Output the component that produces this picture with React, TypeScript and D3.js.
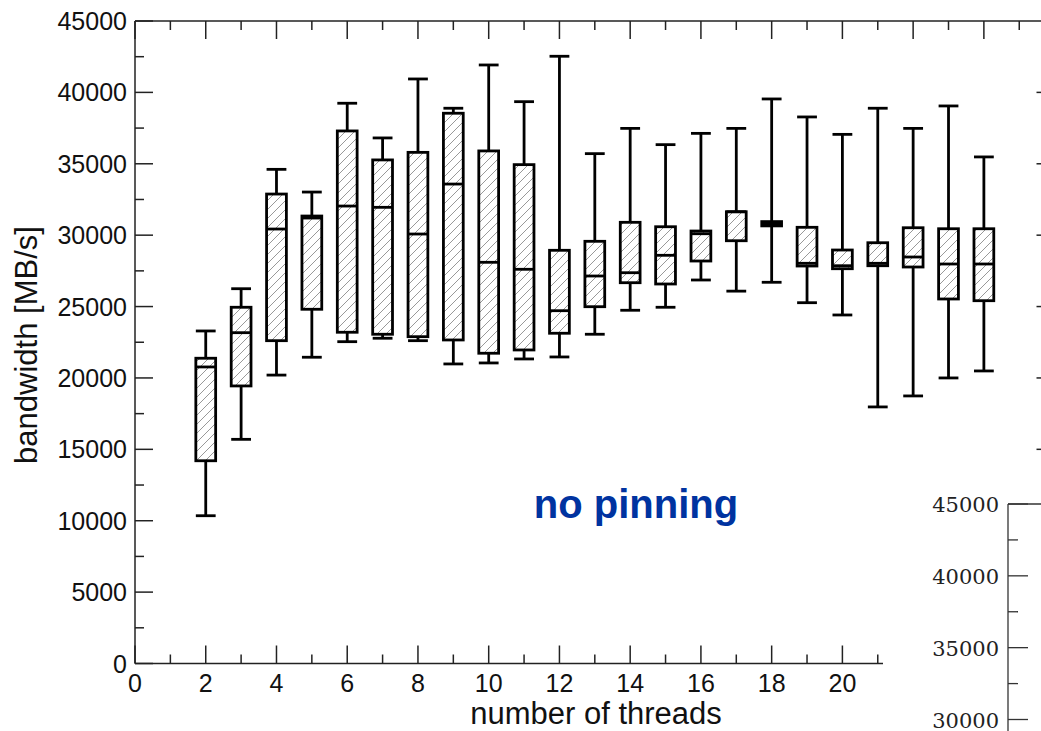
import React from "react";
import * as d3 from "d3";

// box statistics per thread count (MB/s)
const threads = [2, 3, 4, 5, 6, 7, 8, 9, 10, 11, 12, 13, 14, 15, 16, 17, 18, 19, 20, 21, 22, 23, 24];
const whiskerLow = [10350, 15700, 20200, 21450, 22540, 22780, 22610, 20980, 21050, 21330, 21470, 23060, 24740, 24950, 26860, 26080, 26700, 25270, 24410, 17970, 18740, 20000, 20490];
const q1 = [14200, 19440, 22610, 24810, 23200, 23060, 22890, 22660, 21730, 21960, 23130, 24990, 26670, 26580, 28190, 29610, 30650, 27840, 27650, 27860, 27770, 25530, 25410];
const median = [20770, 23170, 30430, 31200, 32040, 31950, 30080, 33580, 28100, 27610, 24710, 27140, 27370, 28590, 30100, 31640, 30800, 28030, 27860, 28030, 28470, 27980, 27980];
const q3 = [21380, 24950, 32880, 31340, 37300, 35270, 35800, 38540, 35900, 34940, 28940, 29570, 30900, 30590, 30290, 31640, 30950, 30550, 28960, 29470, 30520, 30450, 30450];
const whiskerHigh = [23290, 26250, 34610, 33020, 39240, 36810, 40940, 38890, 41920, 39350, 42530, 35710, 37480, 36340, 37130, 37480, 39540, 38280, 37060, 38890, 37480, 39050, 35480];

const yTicks = [0, 5000, 10000, 15000, 20000, 25000, 30000, 35000, 40000, 45000];
const xTickLabels = [0, 2, 4, 6, 8, 10, 12, 14, 16, 18, 20];
const insetTicks = [30000, 35000, 40000, 45000];

const W = 1041;
const H = 731;

export default function App() {
  const x = d3.scaleLinear().domain([0, 25]).range([135, 135 + 25 * 35.37]);
  const y = d3.scaleLinear().domain([0, 45000]).range([663.5, 21]);
  const y2 = d3.scaleLinear().domain([30000, 45000]).range([719.5, 504]);
  const halfW = x(0.28) - x(0);

  const axisColor = "#222";
  const sans = "'Liberation Sans', Arial, Helvetica, sans-serif";
  const serif = "'DejaVu Serif', 'Liberation Serif', serif";

  const bottomTicks = d3.range(0, 22);
  const topTicks = d3.range(0, 26);
  const minorY = d3.range(2500, 45000, 5000);
  const insetMinor = [32500, 37500, 42500];

  const boxes = threads.map((t, i) => ({
    t,
    lo: whiskerLow[i],
    q1: q1[i],
    med: median[i],
    q3: q3[i],
    hi: whiskerHigh[i],
  }));

  return (
    <svg
      width={W}
      height={H}
      viewBox={`0 0 ${W} ${H}`}
      style={{ position: "absolute", left: 0, top: 0, background: "#fff" }}
    >
      <defs>
        <pattern id="hatch" patternUnits="userSpaceOnUse" width={9} height={9}>
          <rect width={9} height={9} fill="#fff" />
          <path d="M-2,2 l4,-4 M0,9 l9,-9 M7,11 l4,-4" stroke="#999" strokeWidth={1} />
        </pattern>
      </defs>
      <rect width={W} height={H} fill="#fff" />

      {/* boxes */}
      {boxes.map((b) => {
        const cx = x(b.t);
        return (
          <g key={b.t} stroke="#000" strokeWidth={2.8} fill="none">
            <line x1={cx} x2={cx} y1={y(b.hi)} y2={y(b.q3)} />
            <line x1={cx} x2={cx} y1={y(b.q1)} y2={y(b.lo)} />
            <line x1={cx - halfW} x2={cx + halfW} y1={y(b.hi)} y2={y(b.hi)} />
            <line x1={cx - halfW} x2={cx + halfW} y1={y(b.lo)} y2={y(b.lo)} />
            <rect
              x={cx - halfW}
              y={y(b.q3)}
              width={halfW * 2}
              height={Math.max(1, y(b.q1) - y(b.q3))}
              fill="url(#hatch)"
            />
            <line x1={cx - halfW} x2={cx + halfW} y1={y(b.med)} y2={y(b.med)} />
          </g>
        );
      })}

      {/* left axis */}
      <g stroke={axisColor} strokeWidth={1.5}>
        <line x1={x(0)} x2={x(0)} y1={y(45000)} y2={y(0)} />
        {yTicks.map((v) => (
          <line key={v} x1={x(0)} x2={x(0) + 18} y1={y(v)} y2={y(v)} />
        ))}
        {minorY.map((v) => (
          <line key={v} x1={x(0)} x2={x(0) + 9} y1={y(v)} y2={y(v)} />
        ))}
      </g>
      <g fontFamily={sans} fontSize={25} fill="#111" textAnchor="end">
        {yTicks.map((v) => (
          <text key={v} x={127} y={y(v) + 9}>
            {v}
          </text>
        ))}
      </g>

      {/* top axis */}
      <g stroke={axisColor} strokeWidth={1.5}>
        <line x1={x(0)} x2={W} y1={y(45000)} y2={y(45000)} />
        {topTicks.map((t) => (
          <line key={t} x1={x(t)} x2={x(t)} y1={y(45000)} y2={y(45000) + (t % 2 === 0 ? 18 : 9)} />
        ))}
      </g>

      {/* bottom axis */}
      <g stroke={axisColor} strokeWidth={1.5}>
        <line x1={x(0)} x2={883} y1={y(0)} y2={y(0)} />
        {bottomTicks.map((t) => (
          <line key={t} x1={x(t)} x2={x(t)} y1={y(0)} y2={y(0) - (t % 2 === 0 ? 18 : 9)} />
        ))}
      </g>
      <g fontFamily={sans} fontSize={25} fill="#111" textAnchor="middle">
        {xTickLabels.map((t) => (
          <text key={t} x={x(t)} y={692}>
            {t}
          </text>
        ))}
      </g>

      <text
        fontFamily={sans}
        fontSize={31}
        fill="#111"
        textAnchor="middle"
        transform={`translate(37,345) rotate(-90)`}
      >
        bandwidth [MB/s]
      </text>
      <text fontFamily={sans} fontSize={31} fill="#111" textAnchor="middle" x={596} y={724}>
        number of threads
      </text>

      <text
        fontFamily={sans}
        fontSize={40}
        fontWeight="bold"
        fill="#0033a0"
        textAnchor="middle"
        x={636}
        y={518}
      >
        no pinning
      </text>

      {/* ticks of the neighbouring chart at the right edge */}
      <g stroke={axisColor} strokeWidth={1.5}>
        {[15000, 20000, 25000, 30000, 35000, 40000].map((v) => (
          <line key={v} x1={1036.5} x2={W} y1={y(v)} y2={y(v)} />
        ))}
      </g>

      {/* overlapping inset panel at the lower right */}
      <rect x={884} y={486} width={W - 884} height={H - 486} fill="#fff" />
      <g stroke="#333" strokeWidth={1.3}>
        <line x1={1008} x2={1008} y1={y2(45000)} y2={H} />
        <line x1={1008} x2={W} y1={y2(45000)} y2={y2(45000)} />
        {insetTicks.map((v) => (
          <line key={v} x1={1008} x2={1028} y1={y2(v)} y2={y2(v)} />
        ))}
        {insetMinor.map((v) => (
          <line key={v} x1={1008} x2={1018} y1={y2(v)} y2={y2(v)} />
        ))}
      </g>
      <g fontFamily={serif} fontSize={21} fill="#222" textAnchor="end">
        {insetTicks.map((v) => (
          <text key={v} x={999} y={y2(v) + 8}>
            {v}
          </text>
        ))}
      </g>
    </svg>
  );
}
